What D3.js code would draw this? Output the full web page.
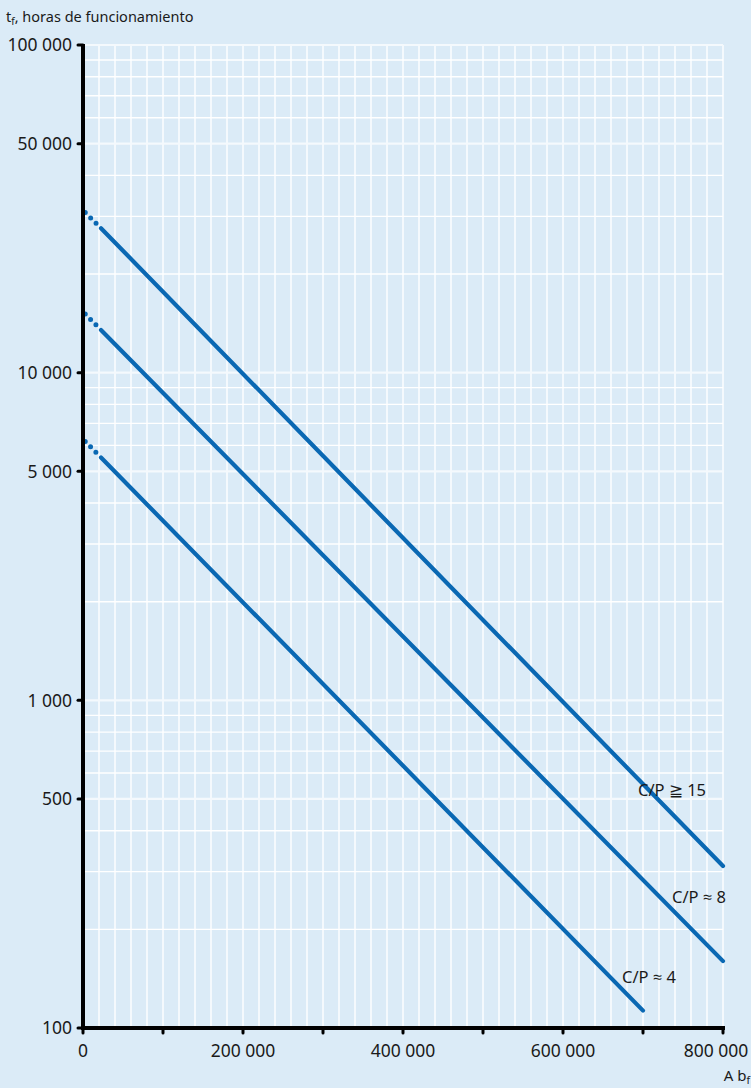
<!DOCTYPE html>
<html>
<head>
<meta charset="utf-8">
<script src="https://cdn.jsdelivr.net/npm/d3@7"></script>
<style>
  html, body { margin: 0; padding: 0; background: #dbebf7; }
  svg { display: block; }
  text { font-family: "Noto Sans", "Open Sans", sans-serif; fill: #1a1a1a; }
</style>
</head>
<body>
<svg id="chart" width="751" height="1088"></svg>
<script>
// ---- data ----
const seriesNames = ["C/P \u2267 15", "C/P \u2248 8", "C/P \u2248 4"];
// [A·b_f, t_f] points: first segment (0 -> 22 500) drawn dotted, rest solid
const cp15 = [[0, 31300], [22500, 27600], [800000, 312]];
const cp8  = [[0, 15350], [22500, 13500], [800000, 160]];
const cp4  = [[0, 6270],  [22500, 5510],  [700000, 113]];
const seriesData = [cp15, cp8, cp4];
// label anchor points in data units
const labelA = [693750, 736250, 673750];
const labelT = [532, 251, 143];

const xTickValues = [0, 200000, 400000, 600000, 800000];
const xTickLabels = ["0", "200 000", "400 000", "600 000", "800 000"];
const xMinorTicks = [100000, 300000, 500000, 700000];
const yTickValues = [100, 500, 1000, 5000, 10000, 50000, 100000];
const yTickLabels = ["100", "500", "1 000", "5 000", "10 000", "50 000", "100 000"];

const yTitle = ["t", "f", ", horas de funcionamiento"];
const xTitle = ["A b", "f"];

// ---- layout ----
const svg = d3.select("#chart");
const mLeft = 83, mRight = 723, mTop = 45, mBottom = 1028;

const x = d3.scaleLinear().domain([0, 800000]).range([mLeft, mRight]);
const y = d3.scaleLog().domain([100, 100000]).range([mBottom, mTop]);

svg.append("rect").attr("width", 751).attr("height", 1088).attr("fill", "#dbebf7");

// grid
const g = svg.append("g");
const vGrid = d3.range(20000, 800001, 20000);
g.selectAll("line.v").data(vGrid).join("line")
  .attr("x1", d => x(d)).attr("x2", d => x(d))
  .attr("y1", mTop).attr("y2", mBottom)
  .attr("stroke", "#ffffff").attr("stroke-width", 1.4);

const hGrid = [];
[100, 1000, 10000].forEach(dec => { for (let k = 1; k <= 9; k++) hGrid.push(dec * k); });
hGrid.push(100000);
const isMajor = d => {
  const m = d / Math.pow(10, Math.floor(Math.log10(d) + 1e-9));
  return Math.abs(m - 1) < 1e-6 || Math.abs(m - 5) < 1e-6;
};
g.selectAll("line.h").data(hGrid.filter(d => d > 100)).join("line")
  .attr("x1", mLeft).attr("x2", mRight)
  .attr("y1", d => y(d)).attr("y2", d => y(d))
  .attr("stroke", d => isMajor(d) ? "#f4f9fd" : "#ffffff")
  .attr("stroke-width", d => isMajor(d) ? 2.2 : 1.4);

// series lines
const line = d3.line().x(d => x(d[0])).y(d => y(d[1]));
const color = "#0a68b3";
seriesData.forEach(s => {
  svg.append("path").datum(s.slice(0, 2)).attr("d", line)
    .attr("fill", "none").attr("stroke", color).attr("stroke-width", 5)
    .attr("stroke-linecap", "round").attr("stroke-dasharray", "0 7.6 0 7.6 0 7.6 0 100")
    .attr("stroke-dashoffset", -3.2);
  svg.append("path").datum(s.slice(1)).attr("d", line)
    .attr("fill", "none").attr("stroke", color).attr("stroke-width", 4.2)
    .attr("stroke-linecap", "round");
});

// series labels
svg.selectAll("text.lab").data(seriesNames).join("text")
  .attr("x", (d, i) => x(labelA[i])).attr("y", (d, i) => y(labelT[i]))
  .attr("dy", "0.35em").attr("font-size", 16.5).text(d => d);

// axes
const yAxis = svg.append("g");
yAxis.append("line").attr("x1", mLeft).attr("x2", mLeft).attr("y1", mTop - 1).attr("y2", mBottom + 2)
  .attr("stroke", "#000").attr("stroke-width", 4);
yAxis.selectAll("line.t").data(yTickValues).join("line")
  .attr("x1", mLeft - 5).attr("x2", mLeft).attr("y1", d => y(d)).attr("y2", d => y(d))
  .attr("stroke", "#000").attr("stroke-width", 3).attr("stroke-linecap", "round");
yAxis.selectAll("text").data(yTickValues).join("text")
  .attr("x", mLeft - 11).attr("y", d => y(d)).attr("dy", "0.36em")
  .attr("text-anchor", "end").attr("font-size", 17.5)
  .text((d, i) => yTickLabels[i]);

const xAxis = svg.append("g");
xAxis.append("line").attr("x1", mLeft - 2).attr("x2", mRight + 2).attr("y1", mBottom).attr("y2", mBottom)
  .attr("stroke", "#000").attr("stroke-width", 4);
xAxis.selectAll("line.t").data(xTickValues.concat(xMinorTicks)).join("line")
  .attr("x1", d => x(d)).attr("x2", d => x(d)).attr("y1", mBottom).attr("y2", mBottom + 5)
  .attr("stroke", "#000").attr("stroke-width", 3).attr("stroke-linecap", "round");
xAxis.selectAll("text").data(xTickValues).join("text")
  .attr("x", d => Math.min(x(d), 716)).attr("y", mBottom + 29)
  .attr("text-anchor", "middle").attr("font-size", 17.5)
  .text((d, i) => xTickLabels[i]);

// axis titles
const yt = svg.append("text").attr("x", 6).attr("y", 22).attr("font-size", 14.5);
yt.append("tspan").text(yTitle[0]);
yt.append("tspan").attr("font-size", 10).attr("dy", 3).text(yTitle[1]);
yt.append("tspan").attr("dy", -3).text(yTitle[2]);

const xt = svg.append("text").attr("x", 750).attr("y", 1081).attr("font-size", 15).attr("text-anchor", "end");
xt.append("tspan").text(xTitle[0]);
xt.append("tspan").attr("font-size", 10.5).attr("dy", 3).text(xTitle[1]);
</script>
</body>
</html>
